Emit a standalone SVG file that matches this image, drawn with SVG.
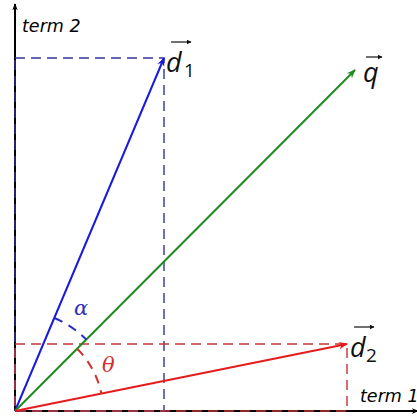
<svg xmlns="http://www.w3.org/2000/svg" width="417" height="416" viewBox="0 0 417 416">
<defs>
<marker id="ak" viewBox="0 0 10 10" refX="9" refY="5" markerWidth="7" markerHeight="7" orient="auto" markerUnits="userSpaceOnUse"><path d="M0,1 L10,5 L0,9 L3,5 z" fill="#000"/></marker>
<marker id="ab" viewBox="0 0 10 10" refX="9" refY="5" markerWidth="9" markerHeight="9" orient="auto" markerUnits="userSpaceOnUse"><path d="M0,1 L10,5 L0,9 L3,5 z" fill="#1a1adc"/></marker>
<marker id="ag" viewBox="0 0 10 10" refX="9" refY="5" markerWidth="9" markerHeight="9" orient="auto" markerUnits="userSpaceOnUse"><path d="M0,1 L10,5 L0,9 L3,5 z" fill="#1f8a1f"/></marker>
<marker id="ar" viewBox="0 0 10 10" refX="9" refY="5" markerWidth="9" markerHeight="9" orient="auto" markerUnits="userSpaceOnUse"><path d="M0,1 L10,5 L0,9 L3,5 z" fill="#e41c1c"/></marker>
<marker id="sm" viewBox="0 0 10 10" refX="9" refY="5" markerWidth="5" markerHeight="5" orient="auto" markerUnits="userSpaceOnUse"><path d="M0,0 L10,5 L0,10 z" fill="#111"/></marker>
</defs>
<style>
.bdash{stroke:#34349a;stroke-width:1.4;stroke-dasharray:10 6;fill:none}
.rdash{stroke:#c43434;stroke-width:1.4;stroke-dasharray:10 6;fill:none}
.axis{stroke:#000;stroke-width:2;fill:none}
.lbl{font-family:"Open Sans","Liberation Sans",sans-serif;font-style:italic;font-size:27px;fill:#111}
.sub{font-family:"Open Sans","Liberation Sans",sans-serif;font-size:19px;fill:#111}
.term{font-family:"DejaVu Sans","Liberation Sans",sans-serif;font-style:oblique;font-size:17.5px;fill:#000}
.greek{font-family:"DejaVu Serif","Liberation Serif",serif;font-style:italic;font-size:21px}
.vec{stroke:#111;stroke-width:1.2;fill:none}
</style>
<rect width="417" height="416" fill="#fff"/>
<g id="axes">
<path class="axis" d="M15,411 V4" marker-end="url(#ak)"/>
<path class="axis" d="M15,411 H418" marker-end="url(#ak)"/>
<text class="term" x="22" y="32">term 2</text>
<text class="term" x="360" y="402">term 1</text>
</g>
<g id="guides">
<rect class="bdash" x="15" y="58" width="149" height="353"/>
<rect class="rdash" x="15" y="344" width="332" height="67"/>
</g>
<g id="connectors">
<path d="M15,411 L164,58" stroke="#1a1adc" stroke-width="2" fill="none" marker-end="url(#ab)"/>
<path d="M15,411 L355,70" stroke="#1f8a1f" stroke-width="2" fill="none" marker-end="url(#ag)"/>
<path d="M15,411 L347,344" stroke="#e41c1c" stroke-width="2" fill="none" marker-end="url(#ar)"/>
</g>
<g id="alpha">
<path d="M54.3,318 A101,101 0 0 1 86.4,339.6" stroke="#2a2ac8" stroke-width="2" stroke-dasharray="9 7" fill="none"/>
<text class="greek" x="74" y="315" fill="#3030c0">α</text>
</g>
<g id="theta">
<path d="M77.2,348.8 A88,88 0 0 1 101.3,393.6" stroke="#d03030" stroke-width="2" stroke-dasharray="9 7" fill="none"/>
<text class="greek" x="102" y="372" fill="#d03030">θ</text>
</g>
<g id="d1">
<text class="lbl" x="166" y="72">d</text>
<text class="sub" x="184" y="77">1</text>
<path class="vec" d="M171,42 H191" marker-end="url(#sm)"/>
</g>
<g id="q">
<text class="lbl" x="363" y="82">q</text>
<path class="vec" d="M366,57 H382" marker-end="url(#sm)"/>
</g>
<g id="d2">
<text class="lbl" x="350" y="357">d</text>
<text class="sub" x="366" y="362">2</text>
<path class="vec" d="M354,327 H374" marker-end="url(#sm)"/>
</g>
</svg>
